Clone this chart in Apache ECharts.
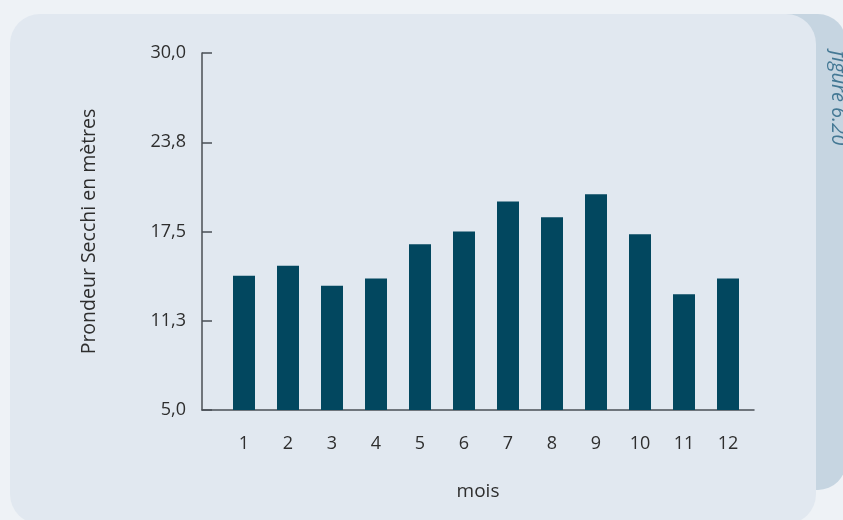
<!DOCTYPE html>
<html>
<head>
<meta charset="utf-8">
<script src="https://cdn.jsdelivr.net/npm/echarts@6/dist/echarts.min.js"></script>
<style>
  html, body { margin: 0; padding: 0; background: #eef2f6; }
  #chart { width: 843px; height: 520px; }
</style>
</head>
<body>
<div id="chart"></div>
<script>
// Profondeur Secchi moyenne par mois
var months = [1, 2, 3, 4, 5, 6, 7, 8, 9, 10, 11, 12];
var secchiDepth = [14.4, 15.1, 13.7, 14.2, 16.6, 17.5, 19.6, 18.5, 20.1, 17.3, 13.1, 14.2];
var yTicks = [5, 11.25, 17.5, 23.75, 30];

var FONT = '"Open Sans", "Noto Sans", sans-serif';
var TEXT = '#2e2e2e';

var chart = echarts.init(document.getElementById('chart'), null, { renderer: 'canvas' });

chart.setOption({
  backgroundColor: '#eef2f6',
  animation: false,
  graphic: [
    {
      type: 'rect', z: -20, silent: true,
      shape: { x: 700, y: 14, width: 146, height: 476, r: 28 },
      style: { fill: '#c6d5e1' }
    },
    {
      type: 'rect', z: -10, silent: true,
      shape: { x: 10, y: 14, width: 806, height: 510, r: 30 },
      style: { fill: '#e1e8f0' }
    },
    {
      type: 'text', z: -5, silent: true,
      x: 838, y: 98, rotation: -Math.PI / 2,
      style: {
        text: 'figure 6.20', fill: '#447894',
        font: 'italic 20px ' + FONT,
        align: 'center', verticalAlign: 'middle'
      }
    }
  ],
  grid: { left: 202, right: 89, top: 53, bottom: 110, containLabel: false },
  xAxis: {
    type: 'value',
    min: 1 - 42 / 44,
    max: 12 + 26 / 44,
    name: 'mois',
    nameLocation: 'middle',
    nameGap: 72,
    nameTextStyle: { color: TEXT, fontSize: 19, fontFamily: FONT },
    axisLine: { show: true, lineStyle: { color: '#4a4f55', width: 1.5 } },
    axisTick: { show: false },
    splitLine: { show: false },
    axisLabel: {
      customValues: months,
      color: TEXT, fontSize: 18, fontFamily: FONT, margin: 25,
      formatter: function (v) { return String(Math.round(v)); }
    }
  },
  yAxis: {
    type: 'value',
    min: 5,
    max: 30,
    name: 'Prondeur Secchi en mètres',
    nameLocation: 'middle',
    nameGap: 103,
    nameRotate: 90,
    nameTextStyle: { color: TEXT, fontSize: 19.5, fontFamily: FONT },
    axisLine: { show: true, lineStyle: { color: '#4a4f55', width: 1.5 } },
    axisTick: { show: true, customValues: yTicks, inside: true, length: 10, lineStyle: { color: '#4a4f55', width: 1.5 } },
    splitLine: { show: false },
    axisLabel: {
      customValues: yTicks,
      color: TEXT, fontSize: 18, fontFamily: FONT, margin: 16,
      formatter: function (v) { return v.toFixed(1).replace('.', ','); }
    }
  },
  series: [{
    type: 'bar',
    barWidth: 22,
    itemStyle: { color: '#02475f' },
    data: months.map(function (m, i) { return [m, secchiDepth[i]]; })
  }]
});
</script>
</body>
</html>
